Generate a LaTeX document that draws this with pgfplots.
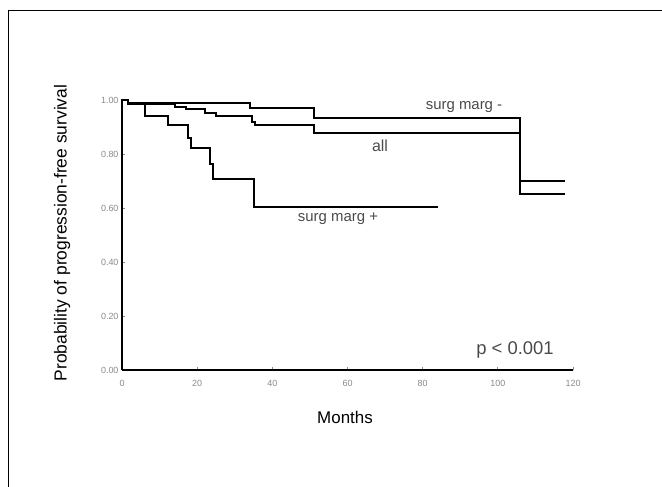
\documentclass[border=0pt]{standalone}
\usepackage{fontspec}
\setmainfont{Liberation Sans}
\usepackage{pgfplots}
\pgfplotsset{compat=1.18}
\definecolor{ticktext}{HTML}{8A8A8A}
\definecolor{annot}{HTML}{4A4A4A}

\begin{document}
\begin{tikzpicture}[x=1bp,y=1bp]
  % canvas 662 x 487, y measured upward
  \path[use as bounding box] (0,0) rectangle (662,487);
  \draw[line width=1.5bp] (8.5,0) -- (8.5,476.5) -- (662,476.5);

  \begin{axis}[
    at={(122bp,117bp)}, anchor=origin,
    scale only axis, width=451bp, height=271bp,
    xmin=0, xmax=120, ymin=0, ymax=1.005,
    axis x line=bottom, axis y line=left,
    axis line style={line width=2bp,-},
    xtick={0,20,...,120}, ytick={0,0.2,...,1.0},
    tick align=inside, major tick length=3bp,
    tick style={line width=0.8bp,ticktext},
    yticklabel style={/pgf/number format/fixed,/pgf/number format/fixed zerofill,/pgf/number format/precision=2},
    /pgf/number format/assume math mode=true,
    tick label style={font=\fontsize{9}{10}\selectfont,color=ticktext},
    xticklabel style={yshift=-7bp},
    clip=false,
  ]
    % surg marg -
    \addplot[black,line width=2bp,const plot] coordinates {
      (0,1.0)(1.5,0.99)(34,0.97)(51,0.933)(106,0.70)(118,0.70)};
    % all
    \addplot[black,line width=2bp,const plot] coordinates {
      (0,1.0)(1.5,0.985)(14,0.974)(17,0.967)(22,0.953)(25,0.941)
      (34.5,0.92)(35.5,0.908)(51,0.879)(106,0.654)(118,0.654)};
    % surg marg +
    \addplot[black,line width=2bp,const plot] coordinates {
      (0,1.0)(1.5,0.99)(6.1,0.941)(12.2,0.907)(17.6,0.861)(18.3,0.824)
      (23.3,0.765)(24.3,0.71)(35,0.606)(84,0.606)};
  \end{axis}

  \node[annot,font=\fontsize{15}{17}\selectfont] at (464,380) {surg marg -};
  \node[annot,font=\fontsize{16}{18}\selectfont] at (380,341) {all};
  \node[annot,font=\fontsize{15}{17}\selectfont,anchor=north,inner sep=0pt] at (338,274) {surg marg +};
  \node[annot,font=\fontsize{18.5}{20}\selectfont] at (515,137) {p < 0.001};
  \node[font=\fontsize{17}{19}\selectfont] at (345,70) {Months};
  \node[font=\fontsize{17.5}{19}\selectfont,rotate=90] at (62,254) {Probability of progression-free survival};
\end{tikzpicture}
\end{document}
